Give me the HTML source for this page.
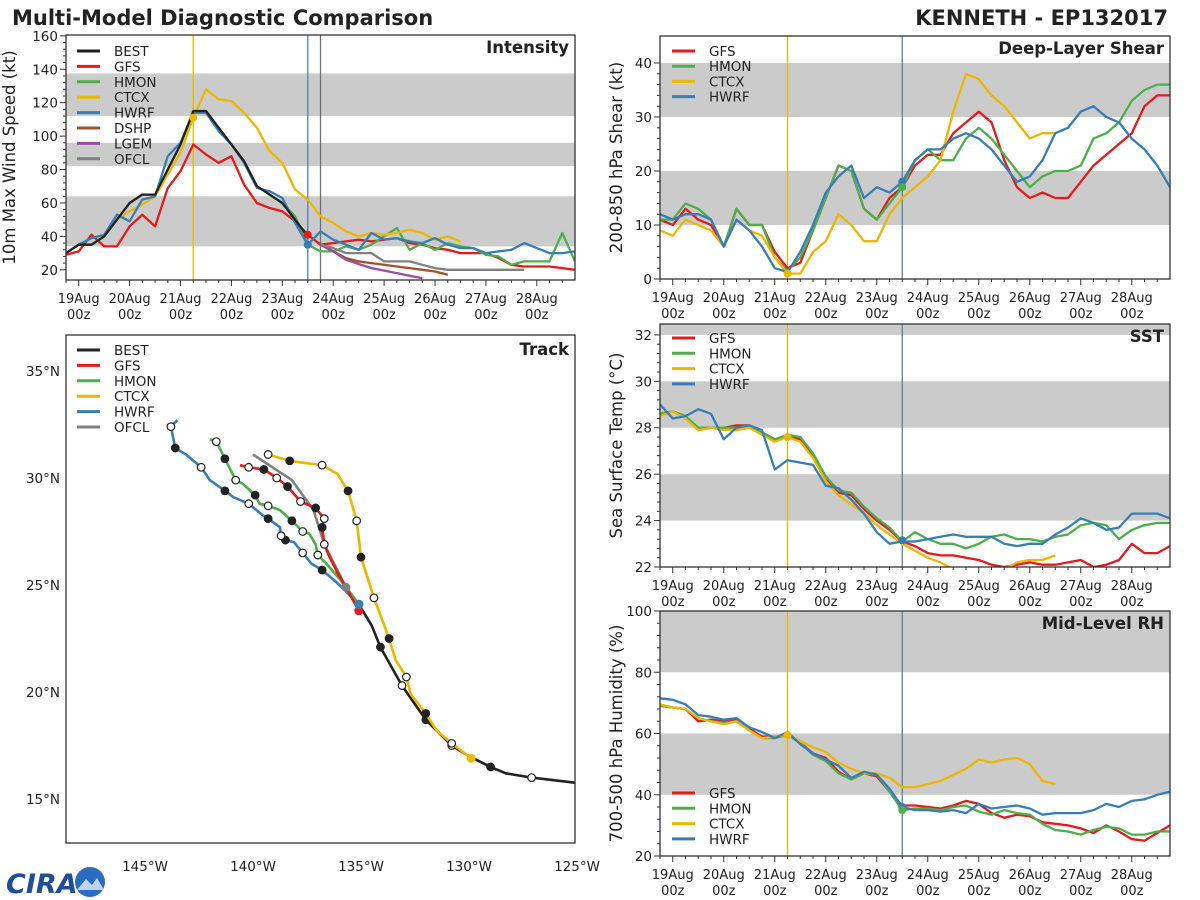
<!DOCTYPE html>
<html><head><meta charset="utf-8"><title>Multi-Model Diagnostic Comparison</title>
<style>
html,body{margin:0;padding:0;background:#fff;}
svg{display:block;font-family:"DejaVu Sans","Liberation Sans",sans-serif;}
</style></head>
<body>
<svg id="chart" width="1200" height="900" viewBox="0 0 1200 900" xmlns="http://www.w3.org/2000/svg">
<rect x="0" y="0" width="1200" height="900" fill="#fff"/>
<text x="12" y="25" font-size="21" font-weight="bold" fill="#222">Multi-Model Diagnostic Comparison</text>
<text x="1168" y="25" font-size="21" font-weight="bold" fill="#222" text-anchor="end">KENNETH - EP132017</text>
<g>
<text x="6" y="893" font-size="27" font-weight="bold" font-style="italic" fill="#1f4e99">CIRA</text>
<circle cx="90" cy="882" r="15" fill="#2a6cc0"/>
<path d="M77,890 L86,879 L92,885 L97,878 L104,890 Z" fill="#fff" opacity="0.7"/>
</g>
</svg>
<script>
// ===== Time axis (days since 19Aug 00z, 6-hourly) =====
const TMIN = -0.25, TMAX = 9.75;
const dayLabels = ["19Aug","20Aug","21Aug","22Aug","23Aug","24Aug","25Aug","26Aug","27Aug","28Aug"];

// ===== Intensity (kt) =====
const intBEST = [30,35,35,40,50,60,65,65,80,95,115,115,105,95,85,70,65,60,50,40];
const intBESTStart = -0.25;
const intGFS = [29,31,41,34,34,46,53,46,69,79,95,89,84,88,71,60,57,55,49,41,35,36,37,38,37,38,39,36,35,33,32,30,30,30,27,23,22,22,22,21,20];
const intGFSStart = -0.25;
const intHMON = [30,35,35,40,50,60,65,65,80,95,114,114,105,95,85,70,65,60,52,35,31,31,34,32,35,40,45,32,36,32,36,34,33,29,28,23,25,25,25,42,25];
const intHMONStart = -0.25;
const intCTCX = [30,35,35,40,50,55,59,64,77,90,111,128,122,121,114,105,91,84,68,62,52,48,43,40,42,41,42,44,42,38,40,37];
const intCTCXStart = -0.25;
const intHWRF = [30,35,39,41,53,49,62,64,88,96,114,114,103,95,84,69,67,63,48,35,43,38,35,32,42,38,39,37,36,39,35,33,33,30,31,32,36,33,30,30,31];
const intHWRFStart = -0.25;
const intDSHP = [35,31,27,25,24,23,22,21,20,19,17];
const intDSHPStart = 4.75;
const intLGEM = [35,31,26,23.5,21,19.5,18,16.5,15];
const intLGEMStart = 4.75;
const intOFCL = [35,33,30,30,30,25,25,25,23,21,20,20,20,20,20,20,20];
const intOFCLStart = 4.75;

// ===== Deep-layer shear (kt) =====
const shrGFS = [11,10,13,11,10,6,13,10,10,5,2,3,9,15,21,20,13,11,15,17,21,23,23,27,29,31,29,22,17,15,16,15,15,18,21,23,25,27,32,34,34];
const shrHMON = [11,11,14,13,11,6,13,10,10,4,1.5,4,9,15,21,20,13,11,14,17,22,24,22,22,26,28,26,23,20,17,19,20,20,21,26,27,29,33,35,36,36];
const shrCTCX = [9,8,11,10,9,6,11,9,8,4,1,1,5,7,12,10,7,7,12,15,17,19,22,31,38,37,34,32,29,26,27,27];
const shrHWRF = [12,11,12,12,11,6,11,9,6,2,1.3,5,10,16,19,21,15,17,16,18,22,24,24,26,27,26,24,21,18,19,22,27,28,31,32,30,29,26,24,21,17];

// ===== SST (deg C) =====
const sstGFS = [28.6,28.7,28.5,27.9,28.0,28.0,28.1,28.1,27.8,27.5,27.6,27.5,26.8,25.8,25.2,25.1,24.5,24.0,23.6,23.1,22.9,22.6,22.5,22.5,22.4,22.3,22.1,22.0,22.1,22.2,22.1,22.1,22.2,22.3,22.0,22.1,22.3,23.0,22.6,22.6,22.9];
const sstHMON = [28.6,28.7,28.5,28.0,28.0,28.0,28.0,28.1,27.8,27.5,27.7,27.6,26.9,25.9,25.3,25.2,24.6,24.1,23.7,23.1,23.5,23.2,23.0,23.0,22.8,23.0,23.3,23.4,23.2,23.2,23.1,23.3,23.4,23.8,23.9,23.8,23.2,23.6,23.8,23.9,23.9];
const sstCTCX = [28.5,28.7,28.4,27.9,28.0,27.9,27.9,28.0,27.7,27.4,27.6,27.4,26.7,25.7,25.1,24.7,24.3,23.8,23.4,23.0,22.7,22.4,22.2,21.9,21.6,21.4,21.3,21.9,22.2,22.3,22.3,22.5];
const sstHWRF = [29.0,28.4,28.5,28.8,28.6,27.5,28.0,28.1,27.9,26.2,26.6,26.5,26.4,25.5,25.4,24.9,24.3,23.5,23.0,23.1,23.1,23.2,23.3,23.4,23.3,23.3,23.3,23.0,22.9,23.0,23.0,23.4,23.7,24.1,23.9,23.6,23.7,24.3,24.3,24.3,24.1];

// ===== Mid-level RH (%) =====
const rhGFS = [69,68.5,68,64,64.5,64,64.5,61.5,59,59,59.5,57,53.5,52,47.5,45,47,46,41,36.5,36.5,36,35.5,36.5,38,37,34,32.5,33.5,33,31,30.5,30,29,27.5,30,28,25.5,25,27.5,30];
const rhHMON = [69,68.5,68,65,64,63.5,64,61,58.5,58.5,59.5,57,53,51,47,45,47,46.5,41,35,35.5,35.5,35,36,36.5,34.5,33.5,35,34,33.5,30.5,28.5,28,27,28.5,29.5,29,27,27,28,28];
const rhCTCX = [69.5,68.5,68,65,64,63,64,61,58.5,59,59.5,57.5,55.5,54,50.5,48.5,47,47,45.5,42.5,42.5,43.5,44.5,46.5,48.5,51.5,50.5,51.5,52,50,44.5,43.5];
const rhHWRF = [71.5,71,69.5,66,65.5,64.5,65,62,60.5,58.5,60.5,56.5,53.5,51.5,49.5,45.5,47.5,46.5,42,36,35,35,34.5,35,34,37,35.5,36,36.5,35.5,33.5,34,34,34,35,37,36,38,38.5,40,41];

// ===== Track (deg W longitude, deg N latitude, marker 0 none / 1 filled / 2 open) =====
const trkBESTLon = [125.1,127.1,128.3,129.0,130.0,130.8,132.0,133.1,134.1,134.5,135.1];
const trkBESTLat = [15.76,16.0,16.2,16.5,17.0,17.5,18.7,20.3,22.1,23.1,24.1];
const trkBESTMark = [0,2,0,1,0,2,1,2,1,0,0];
const trkCTCXLon = [129.9,130.8,131.5,132.0,132.7,132.9,133.4,133.7,134.4,135.0,135.2,135.6,136.1,136.8,138.3,139.3];
const trkCTCXLat = [16.9,17.6,18.2,19.0,19.9,20.7,21.5,22.5,24.4,26.3,28.0,29.4,30.2,30.6,30.8,31.1];
const trkCTCXMark = [0,2,0,1,0,2,0,1,2,1,2,1,0,2,1,2];
const trkGFSLon = [135.1,135.7,136.1,136.5,136.7,136.8,136.7,137.1,137.8,138.4,138.9,139.5,140.2,140.6];
const trkGFSLat = [23.8,24.9,25.6,26.4,26.9,27.7,28.1,28.6,28.9,29.6,30.0,30.4,30.5,30.6];
const trkGFSMark = [0,0,0,0,2,1,2,1,2,1,2,1,2,0];
const trkHMONLon = [135.1,135.4,136.0,136.6,137.0,137.1,137.4,137.7,138.2,138.75,139.3,139.7,139.9,140.5,140.8,141.3,141.7,142.0];
const trkHMONLat = [24.1,24.5,25.3,26.0,26.4,26.9,27.4,27.5,28.0,28.5,28.7,28.8,29.2,29.75,29.9,30.9,31.7,31.8];
const trkHMONMark = [0,0,0,0,2,0,0,2,1,0,2,0,1,0,2,1,2,0];
const trkHWRFLon = [135.1,135.7,136.1,136.8,137.3,137.7,138.1,138.5,138.7,138.75,139.3,139.6,140.2,140.9,141.3,142.0,142.4,143.1,143.6,143.7,143.8,143.5];
const trkHWRFLat = [24.1,24.7,25.1,25.7,26.0,26.5,27.0,27.1,27.3,27.7,28.1,28.3,28.8,29.1,29.4,29.9,30.5,31.1,31.4,31.9,32.4,32.7];
const trkHWRFMark = [0,0,0,1,0,2,0,1,2,0,1,0,2,0,1,0,2,0,1,0,2,0];
const trkOFCLLon = [135.1,135.7,136.7,137.2,138.2,140.0];
const trkOFCLLat = [24.1,24.9,26.9,28.5,29.9,31.1];
const latTicks = [15,20,25,30,35];
const lonTicks = [145,140,135,130,125];

const C = {BEST:"#222222",GFS:"#e41a1c",HMON:"#4daf4a",CTCX:"#ebb700",HWRF:"#377eb8",DSHP:"#a0522d",LGEM:"#984ea3",OFCL:"#808080"};

const NS = "http://www.w3.org/2000/svg";
const svg = document.getElementById("chart");
function mk(tag, attrs, parent){
  const e = document.createElementNS(NS, tag);
  for (const k in attrs) e.setAttribute(k, attrs[k]);
  (parent || svg).appendChild(e);
  return e;
}
function ptsStr(a){ return a.map(p => p[0].toFixed(1)+","+p[1].toFixed(1)).join(" "); }
let clipId = 0;

function tsPanel(p){
  const g = mk("g", {});
  
  
  const xs = t => p.x0 + (t - TMIN) / (TMAX - TMIN) * (p.x1 - p.x0);
  const ys = v => p.y1 - (v - p.ymin) / (p.ymax - p.ymin) * (p.y1 - p.y0);
  const cid = "clip" + (clipId++);
  const cp = mk("clipPath", {id: cid}, g);
  mk("rect", {x: p.x0, y: p.y0, width: p.x1 - p.x0, height: p.y1 - p.y0}, cp);
  p.bands.forEach(b => {
    const top = ys(Math.min(b[1], p.ymax)), bot = ys(Math.max(b[0], p.ymin));
    const r = mk("rect", {x: p.x0, y: top, width: p.x1 - p.x0, height: bot - top, fill: "#cbcbcb"}, g);
    
    
  });
  p.vlines.forEach(v => {
    const l = mk("line", {x1: xs(v.t), x2: xs(v.t), y1: p.y0, y2: p.y1, stroke: v.c, "stroke-width": 1.3}, g);
    
    
  });
  const sg = mk("g", {"clip-path": "url(#" + cid + ")"}, g);
  p.series.forEach(s => {
    const pts = s.vals.map((v, i) => [xs(s.start + i * 0.25), ys(v)]);
    const pl = mk("polyline", {points: ptsStr(pts), fill: "none", stroke: C[s.m], "stroke-width": 2.3, "stroke-linejoin": "round"}, sg);
    
    
  });
  p.dots.forEach(d => {
    const c = mk("circle", {cx: xs(d.t), cy: ys(d.v), r: 4, fill: C[d.m]}, sg);
    
    
  });
  const fr = mk("rect", {x: p.x0, y: p.y0, width: p.x1 - p.x0, height: p.y1 - p.y0, fill: "none", stroke: "#333", "stroke-width": 1.3}, g);
  
  
  for (let k = 0; k <= 39; k++){
    const t = TMIN + k * 0.25;
    if (t > TMAX) break;
    const major = Math.abs(t - Math.round(t)) < 1e-6;
    mk("line", {x1: xs(t), x2: xs(t), y1: p.y1, y2: p.y1 + (major ? 6 : 3), stroke: "#333", "stroke-width": 1}, g);
  }
  dayLabels.forEach((lab, i) => {
    const t1 = mk("text", {x: xs(i), y: p.y1 + 23, "font-size": 13, "text-anchor": "middle", fill: "#222"}, g);
    t1.textContent = lab;
    
    
    const t2 = mk("text", {x: xs(i), y: p.y1 + 39, "font-size": 13, "text-anchor": "middle", fill: "#222"}, g);
    t2.textContent = "00z";
    
    
  });
  p.yticks.forEach((v, i) => {
    mk("line", {x1: p.x0 - 6, x2: p.x0, y1: ys(v), y2: ys(v), stroke: "#333", "stroke-width": 1}, g);
    if (i < p.yticks.length - 1){
      const step = (p.yticks[i + 1] - v) / 5;
      for (let m = 1; m < 5; m++) mk("line", {x1: p.x0 - 3, x2: p.x0, y1: ys(v + m * step), y2: ys(v + m * step), stroke: "#333", "stroke-width": 1}, g);
    }
    const tl = mk("text", {x: p.x0 - 8, y: ys(v) + 5, "font-size": 13.5, "text-anchor": "end", fill: "#222"}, g);
    tl.textContent = v;
    
    
  });
  const yl = mk("text", {x: 0, y: 0, "font-size": 16.5, "text-anchor": "middle", fill: "#222", transform: "translate(" + p.ylx + "," + ((p.y0 + p.y1) / 2) + ") rotate(-90)"}, g);
  yl.textContent = p.ylabel;
  
  
  const ti = mk("text", {x: p.x1 - 6, y: p.y0 + 18, "font-size": 16.5, "font-weight": "bold", "text-anchor": "end", fill: "#222"}, g);
  ti.textContent = p.title;
  
  
  legend(g, p.legendItems, p.legX, p.legY, p.legDy);
}

function legend(g, items, lx, ly, dy){
  const lg = mk("g", {}, g);
  
  
  items.forEach((m, i) => {
    const y = ly + i * dy;
    const l = mk("line", {x1: lx, x2: lx + 23, y1: y, y2: y, stroke: C[m], "stroke-width": 3}, lg);
    
    
    const t = mk("text", {x: lx + 37, y: y + 5, "font-size": 13.5, fill: "#222"}, lg);
    t.textContent = m;
    
    
  });
}

const YEL = "#ebb700", VBLUE = "#4a85b8", VGRAY = "#707070", RV = "#5d7f9e";

tsPanel({name: "intensity-panel", x0: 66, x1: 575, y0: 35, y1: 280, ymin: 13.9, ymax: 160.5,
  bands: [[34,64],[82,96],[112,137.5]], yticks: [20,40,60,80,100,120,140,160],
  ylabel: "10m Max Wind Speed (kt)", ylx: 15, title: "Intensity",
  vlines: [{t: 2.25, c: YEL, name: "ctcx-init-line"}, {t: 4.5, c: VBLUE, name: "hwrf-init-line"}, {t: 4.75, c: VGRAY, name: "ofcl-init-line"}],
  series: [
    {m: "GFS", start: intGFSStart, vals: intGFS},
    {m: "HMON", start: intHMONStart, vals: intHMON},
    {m: "CTCX", start: intCTCXStart, vals: intCTCX},
    {m: "HWRF", start: intHWRFStart, vals: intHWRF},
    {m: "DSHP", start: intDSHPStart, vals: intDSHP},
    {m: "LGEM", start: intLGEMStart, vals: intLGEM},
    {m: "OFCL", start: intOFCLStart, vals: intOFCL},
    {m: "BEST", start: intBESTStart, vals: intBEST}],
  dots: [{m: "CTCX", t: 2.25, v: 111}, {m: "GFS", t: 4.5, v: 41}, {m: "HWRF", t: 4.5, v: 35}],
  legendItems: ["BEST","GFS","HMON","CTCX","HWRF","DSHP","LGEM","OFCL"], legX: 77, legY: 51, legDy: 15.4});

tsPanel({name: "shear-panel", x0: 660, x1: 1170, y0: 36, y1: 279, ymin: 0, ymax: 45,
  bands: [[10,20],[30,40]], yticks: [0,10,20,30,40],
  ylabel: "200-850 hPa Shear (kt)", ylx: 622, title: "Deep-Layer Shear",
  vlines: [{t: 2.25, c: YEL, name: "ctcx-init-line"}, {t: 4.5, c: RV, name: "hwrf-init-line"}],
  series: [{m: "GFS", start: -0.25, vals: shrGFS}, {m: "HMON", start: -0.25, vals: shrHMON}, {m: "CTCX", start: -0.25, vals: shrCTCX}, {m: "HWRF", start: -0.25, vals: shrHWRF}],
  dots: [{m: "CTCX", t: 2.25, v: 1}, {m: "HWRF", t: 4.5, v: 18}, {m: "HMON", t: 4.5, v: 17}],
  legendItems: ["GFS","HMON","CTCX","HWRF"], legX: 672, legY: 51, legDy: 15.2});

tsPanel({name: "sst-panel", x0: 660, x1: 1170, y0: 324, y1: 567, ymin: 22, ymax: 32.47,
  bands: [[24,26],[28,30],[32,33]], yticks: [22,24,26,28,30,32],
  ylabel: "Sea Surface Temp (\u00B0C)", ylx: 622, title: "SST",
  vlines: [{t: 2.25, c: YEL, name: "ctcx-init-line"}, {t: 4.5, c: RV, name: "hwrf-init-line"}],
  series: [{m: "GFS", start: -0.25, vals: sstGFS}, {m: "HMON", start: -0.25, vals: sstHMON}, {m: "CTCX", start: -0.25, vals: sstCTCX}, {m: "HWRF", start: -0.25, vals: sstHWRF}],
  dots: [{m: "CTCX", t: 2.25, v: 27.6}, {m: "HWRF", t: 4.5, v: 23.15}],
  legendItems: ["GFS","HMON","CTCX","HWRF"], legX: 672, legY: 338, legDy: 15.3});

tsPanel({name: "rh-panel", x0: 660, x1: 1170, y0: 611, y1: 856, ymin: 20, ymax: 100,
  bands: [[40,60],[80,100]], yticks: [20,40,60,80,100],
  ylabel: "700-500 hPa Humidity (%)", ylx: 622, title: "Mid-Level RH",
  vlines: [{t: 2.25, c: YEL, name: "ctcx-init-line"}, {t: 4.5, c: RV, name: "hwrf-init-line"}],
  series: [{m: "GFS", start: -0.25, vals: rhGFS}, {m: "HMON", start: -0.25, vals: rhHMON}, {m: "CTCX", start: -0.25, vals: rhCTCX}, {m: "HWRF", start: -0.25, vals: rhHWRF}],
  dots: [{m: "CTCX", t: 2.25, v: 59.5}, {m: "HWRF", t: 4.5, v: 36}, {m: "HMON", t: 4.5, v: 35}],
  legendItems: ["GFS","HMON","CTCX","HWRF"], legX: 672, legY: 793, legDy: 15.3});

// ===== Track panel =====
(function(){
  const X0 = 66, X1 = 575, Y0 = 335, Y1 = 843;
  const lx = w => 577 - (w - 125) * 21.6;
  const ly = lat => 799 - (lat - 15) * 21.4;
  const g = mk("g", {});
  
  
  const cp = mk("clipPath", {id: "trackclip"}, g);
  mk("rect", {x: X0, y: Y0, width: X1 - X0, height: Y1 - Y0}, cp);
  const sg = mk("g", {"clip-path": "url(#trackclip)"}, g);
  function track(m, lons, lats, marks){
    const pts = lons.map((w, i) => [lx(w), ly(lats[i])]);
    const pl = mk("polyline", {points: ptsStr(pts), fill: "none", stroke: C[m], "stroke-width": 2.6, "stroke-linejoin": "round"}, sg);
    
    
    if (marks) marks.forEach((k, i) => {
      if (!k) return;
      const c = mk("circle", {cx: pts[i][0], cy: pts[i][1], r: 3.8, fill: k === 1 ? "#222" : "#fff", stroke: "#222", "stroke-width": 1.2}, sg);
      
      
    });
  }
  track("BEST", trkBESTLon, trkBESTLat, trkBESTMark);
  track("CTCX", trkCTCXLon, trkCTCXLat, trkCTCXMark);
  track("OFCL", trkOFCLLon, trkOFCLLat, null);
  track("HWRF", trkHWRFLon, trkHWRFLat, trkHWRFMark);
  track("HMON", trkHMONLon, trkHMONLat, trkHMONMark);
  track("GFS", trkGFSLon, trkGFSLat, trkGFSMark);
  [["CTCX", trkCTCXLon[0], trkCTCXLat[0]], ["GFS", trkGFSLon[0], trkGFSLat[0]], ["HMON", trkHMONLon[0], trkHMONLat[0]], ["HWRF", trkHWRFLon[0], trkHWRFLat[0]], ["OFCL", trkOFCLLon[1], trkOFCLLat[1]]].forEach(d => {
    const c = mk("circle", {cx: lx(d[1]), cy: ly(d[2]), r: 4.5, fill: C[d[0]]}, sg);
    
    
  });
  const fr = mk("rect", {x: X0, y: Y0, width: X1 - X0, height: Y1 - Y0, fill: "none", stroke: "#333", "stroke-width": 1.3}, g);
  
  
  latTicks.forEach(v => {
    const t = mk("text", {x: 60, y: ly(v) + 5, "font-size": 13.5, "text-anchor": "end", fill: "#222"}, g);
    t.textContent = v + "\u00B0N";
    
    
  });
  lonTicks.forEach(v => {
    const t = mk("text", {x: lx(v), y: 871, "font-size": 13.5, "text-anchor": "middle", fill: "#222"}, g);
    t.textContent = v + "\u00B0W";
    
    
  });
  const ti = mk("text", {x: X1 - 6, y: Y0 + 20, "font-size": 16.5, "font-weight": "bold", "text-anchor": "end", fill: "#222"}, g);
  ti.textContent = "Track";
  
  
  legend(g, ["BEST","GFS","HMON","CTCX","HWRF","OFCL"], 77, 350, 15.4);
})();
</script>
</body></html>
